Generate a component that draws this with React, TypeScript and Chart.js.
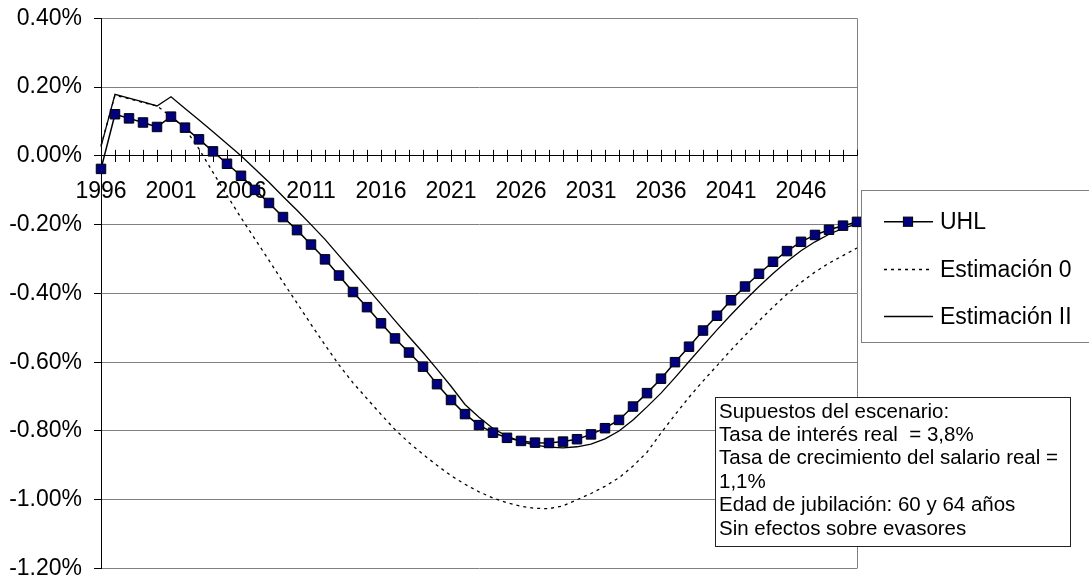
import React, { useEffect, useRef } from 'react';
import { Chart, registerables } from 'chart.js';

Chart.register(...registerables);

const FONT = '"Liberation Sans", Arial, Helvetica, sans-serif';

const YEARS = [
  '1996', '1997', '1998', '1999', '2000', '2001', '2002', '2003', '2004', '2005',
  '2006', '2007', '2008', '2009', '2010', '2011', '2012', '2013', '2014', '2015',
  '2016', '2017', '2018', '2019', '2020', '2021', '2022', '2023', '2024', '2025',
  '2026', '2027', '2028', '2029', '2030', '2031', '2032', '2033', '2034', '2035',
  '2036', '2037', '2038', '2039', '2040', '2041', '2042', '2043', '2044', '2045',
  '2046', '2047', '2048', '2049', '2050',
];

// values in percent
const UHL = [
  -0.038, 0.121, 0.109, 0.097, 0.084, 0.114, 0.082, 0.048, 0.013, -0.023,
  -0.058, -0.099, -0.137, -0.178, -0.216, -0.258, -0.301, -0.348, -0.396, -0.44,
  -0.487, -0.531, -0.572, -0.613, -0.664, -0.71, -0.751, -0.783, -0.805, -0.82,
  -0.829, -0.834, -0.835, -0.831, -0.824, -0.81, -0.792, -0.768, -0.729, -0.69,
  -0.648, -0.6, -0.555, -0.508, -0.465, -0.42, -0.38, -0.343, -0.308, -0.277,
  -0.25, -0.23, -0.215, -0.203, -0.192,
];

const ESTIMACION_0 = [
  0.03, 0.176, 0.166, 0.155, 0.145, 0.115, 0.08, 0.02, -0.048, -0.115,
  -0.18, -0.242, -0.304, -0.367, -0.428, -0.49, -0.55, -0.608, -0.66, -0.706,
  -0.752, -0.796, -0.834, -0.868, -0.9, -0.93, -0.955, -0.977, -0.995, -1.009,
  -1.019, -1.025, -1.026, -1.018, -1.0, -0.982, -0.961, -0.936, -0.902, -0.862,
  -0.806, -0.753, -0.702, -0.655, -0.61, -0.565, -0.522, -0.48, -0.44, -0.402,
  -0.368, -0.338, -0.312, -0.29, -0.268,
];

const ESTIMACION_II = [
  0.027, 0.179, 0.168, 0.157, 0.145, 0.172, 0.138, 0.104, 0.07, 0.035,
  0.0, -0.038, -0.077, -0.118, -0.158, -0.2, -0.243, -0.29, -0.337, -0.384,
  -0.431, -0.479, -0.526, -0.572, -0.62, -0.67, -0.723, -0.76, -0.793, -0.815,
  -0.831, -0.841, -0.847, -0.849, -0.846, -0.838, -0.823, -0.8, -0.768, -0.73,
  -0.69, -0.645, -0.598, -0.552, -0.506, -0.462, -0.42, -0.38, -0.342, -0.307,
  -0.276, -0.25, -0.228, -0.211, -0.198,
];

const SERIES_NAMES = ['UHL', 'Estimación 0', 'Estimación II'];

const Y_MIN = -1.2;
const Y_MAX = 0.4;
const Y_STEP = 0.2;
const X_LABEL_EVERY = 5;

const NOTE_LINES = [
  'Supuestos del escenario:',
  'Tasa de interés real  = 3,8%',
  'Tasa de crecimiento del salario real =',
  '1,1%',
  'Edad de jubilación: 60 y 64 años',
  'Sin efectos sobre evasores',
];

const fmtPct = (v: number | string) => {
  const n = Number(v);
  return (Math.abs(n) < 1e-9 ? 0 : n).toFixed(2) + '%';
};

const excelDecor = {
  id: 'excelDecor',
  beforeDatasetsDraw(chart: any) {
    const { ctx, chartArea } = chart;
    const xs = chart.scales.x;
    const ys = chart.scales.y;
    ctx.save();
    // right border of plot area
    ctx.strokeStyle = '#808080';
    ctx.lineWidth = 1;
    ctx.beginPath();
    ctx.moveTo(Math.round(chartArea.right) + 0.5, chartArea.top);
    ctx.lineTo(Math.round(chartArea.right) + 0.5, chartArea.bottom);
    ctx.stroke();
    // upper halves of crossing tick marks on category axis
    const y0 = ys.getPixelForValue(0);
    ctx.strokeStyle = '#000';
    ctx.beginPath();
    for (let i = 0; i < xs.ticks.length; i++) {
      const x = Math.round(xs.getPixelForTick(i)) + 0.5;
      ctx.moveTo(x, y0 - 6);
      ctx.lineTo(x, y0);
    }
    ctx.stroke();
    ctx.restore();
  },
  afterDraw(chart: any) {
    const { ctx } = chart;
    const ds = chart.data.datasets;
    ctx.save();
    // Legend box
    const lx = 861.5, ly = 190.5, lw = 260, lh = 152;
    ctx.fillStyle = '#fff';
    ctx.fillRect(lx, ly, lw, lh);
    ctx.strokeStyle = '#808080';
    ctx.lineWidth = 1;
    ctx.strokeRect(lx, ly, lw, lh);
    const rows = [221.7, 269.5, 316.5];
    ctx.font = `23px ${FONT}`;
    ctx.textBaseline = 'middle';
    ctx.textAlign = 'left';
    ds.forEach((d: any, i: number) => {
      const y = rows[i];
      ctx.strokeStyle = d.borderColor;
      ctx.lineWidth = d.borderWidth;
      ctx.setLineDash(d.borderDash || []);
      ctx.beginPath();
      ctx.moveTo(884, y);
      ctx.lineTo(933, y);
      ctx.stroke();
      ctx.setLineDash([]);
      if (d.pointRadius > 0) {
        const s = 4.6;
        ctx.fillStyle = d.pointBackgroundColor;
        ctx.fillRect(908 - s, y - s, 2 * s, 2 * s);
        ctx.strokeStyle = d.pointBorderColor;
        ctx.lineWidth = 1;
        ctx.strokeRect(908 - s, y - s, 2 * s, 2 * s);
      }
      ctx.fillStyle = '#000';
      ctx.fillText(d.label, 940, y + 1);
    });
    // Note box
    const bx = 715.5, by = 397.5, bw = 355, bh = 149;
    ctx.fillStyle = '#fff';
    ctx.fillRect(bx, by, bw, bh);
    ctx.strokeStyle = '#222';
    ctx.lineWidth = 1;
    ctx.strokeRect(bx, by, bw, bh);
    ctx.font = `20.5px ${FONT}`;
    ctx.fillStyle = '#000';
    NOTE_LINES.forEach((t, i) => {
      ctx.fillText(t, 719, 412 + i * 23.4);
    });
    ctx.restore();
  },
};

export default function App() {
  const ref = useRef<HTMLCanvasElement>(null);
  useEffect(() => {
    document.body.style.margin = '0';
    const canvas = ref.current!;
    const chart = new Chart(canvas, {
      type: 'line',
      data: {
        labels: YEARS,
        datasets: [
          {
            label: SERIES_NAMES[0],
            data: UHL,
            borderColor: '#000',
            borderWidth: 1.5,
            pointStyle: 'rect',
            pointRadius: 6.7,
            pointBackgroundColor: '#000080',
            pointBorderColor: '#000',
            pointBorderWidth: 1,
            tension: 0,
            clip: false,
          },
          {
            label: SERIES_NAMES[1],
            data: ESTIMACION_0,
            borderColor: '#000',
            borderWidth: 1.3,
            borderDash: [3, 4],
            pointRadius: 0,
            tension: 0,
            clip: false,
          },
          {
            label: SERIES_NAMES[2],
            data: ESTIMACION_II,
            borderColor: '#000',
            borderWidth: 1.3,
            pointRadius: 0,
            tension: 0,
            clip: false,
          },
        ],
      } as any,
      options: {
        responsive: false,
        animation: false,
        events: [],
        layout: { padding: { left: 0, right: 232, top: 18.3, bottom: 12.5 } },
        plugins: { legend: { display: false }, tooltip: { enabled: false } },
        scales: {
          x: {
            type: 'category',
            position: { y: 0 } as any,
            offset: false,
            grid: { drawOnChartArea: false, drawTicks: true, tickLength: 6, color: '#000', lineWidth: 1 },
            border: { display: true, color: '#000', width: 1 },
            ticks: {
              autoSkip: false,
              maxRotation: 0,
              minRotation: 0,
              padding: 16,
              color: '#000',
              font: { family: FONT, size: 23 },
              callback: (_v: any, i: number) => (i % X_LABEL_EVERY === 0 ? YEARS[i] : ''),
            },
            afterFit: (s: any) => { s.height = 0; s.paddingLeft = 0; s.paddingRight = 0; },
          },
          y: {
            min: Y_MIN,
            max: Y_MAX,
            ticks: {
              stepSize: Y_STEP,
              padding: 12,
              color: '#000',
              font: { family: FONT, size: 23 },
              callback: (v: any) => fmtPct(v),
            },
            grid: { color: '#808080', lineWidth: 1, tickLength: 7, tickColor: '#000' },
            border: { color: '#000', width: 1 },
            afterFit: (s: any) => { s.width = 101; s.paddingTop = 0; s.paddingBottom = 0; },
          },
        },
      } as any,
      plugins: [excelDecor],
    });
    return () => chart.destroy();
  }, []);
  return (
    <div style={{ width: 1089, height: 581 }}>
      <canvas ref={ref} width={1089} height={581} style={{ display: 'block' }} />
    </div>
  );
}
